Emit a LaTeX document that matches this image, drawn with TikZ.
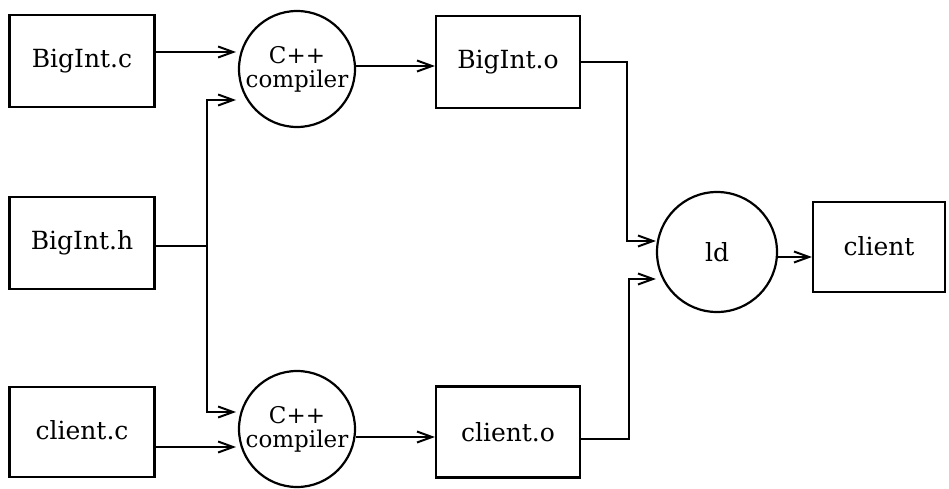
\documentclass[tikz,border=0pt]{standalone}
\usepackage{fontspec}
\setmainfont{DejaVu Serif}
\usetikzlibrary{arrows.meta}
\tikzset{
  file/.style={draw, line width=2.2pt, inner sep=0pt, font=\fontsize{25}{28}\selectfont},
  proc/.style={draw, circle, line width=2.2pt, inner sep=0pt, align=center, font=\fontsize{23}{24}\selectfont},
  arr/.style={line width=2pt, -{Straight Barb[length=15pt,width=11pt,line width=2pt]}},
  ln/.style={line width=2pt}
}
\newcommand{\up}[2]{\raisebox{#1}{#2}}
\begin{document}
\begin{tikzpicture}[x=1pt,y=-1pt]
\useasboundingbox (0,0) rectangle (949,489);
% sources
\node[file, minimum width=145pt, minimum height=92pt] (bc) at (82,61) {\up{6pt}{BigInt.c}};
\node[file, minimum width=145pt, minimum height=92pt] (bh) at (82,243) {\up{5pt}{BigInt.h}};
\node[file, minimum width=145pt, minimum height=90pt] (cc) at (82,432) {\up{5pt}{client.c}};
% compilers
\node[proc, minimum size=116pt] (comp1) at (297,69) {C++\\compiler};
\node[proc, minimum size=116pt] (comp2) at (297,429) {C++\\compiler};
% objects
\node[file, minimum width=144pt, minimum height=92pt] (bo) at (508,62) {\up{4pt}{BigInt.o}};
\node[file, minimum width=144pt, minimum height=91pt] (co) at (508,432) {client.o};
% linker
\node[proc, minimum size=120pt, font=\fontsize{25}{28}\selectfont] (ld) at (717,252) {ld};
\node[file, minimum width=132pt, minimum height=90pt] (cl) at (879,247) {\up{2pt}{client}};
% helper coordinates
\coordinate (j) at (207,246);
\coordinate (k1) at (627,62);
\coordinate (k2) at (629,439);
% connectors
\draw[arr] (bc.east |- 0,52) -- (236,52);
\draw[arr] (cc.east |- 0,447) -- (236,447);
\draw[ln] (bh.east |- j) -- (j);
\draw[arr] (j) |- (236,100);
\draw[arr] (j) |- (236,412);
\draw[arr] (comp1.east |- 0,66) -- (bo.west |- 0,66);
\draw[arr] (comp2.east |- 0,437) -- (co.west |- 0,437);
\draw[arr] (bo.east |- k1) -- (k1) |- (ld.west |- 0,241);
\draw[arr] (co.east |- k2) -- (k2) |- (ld.west |- 0,279);
\draw[arr] (ld.east |- 0,257) -- (cl.west |- 0,257);
\end{tikzpicture}
\end{document}
